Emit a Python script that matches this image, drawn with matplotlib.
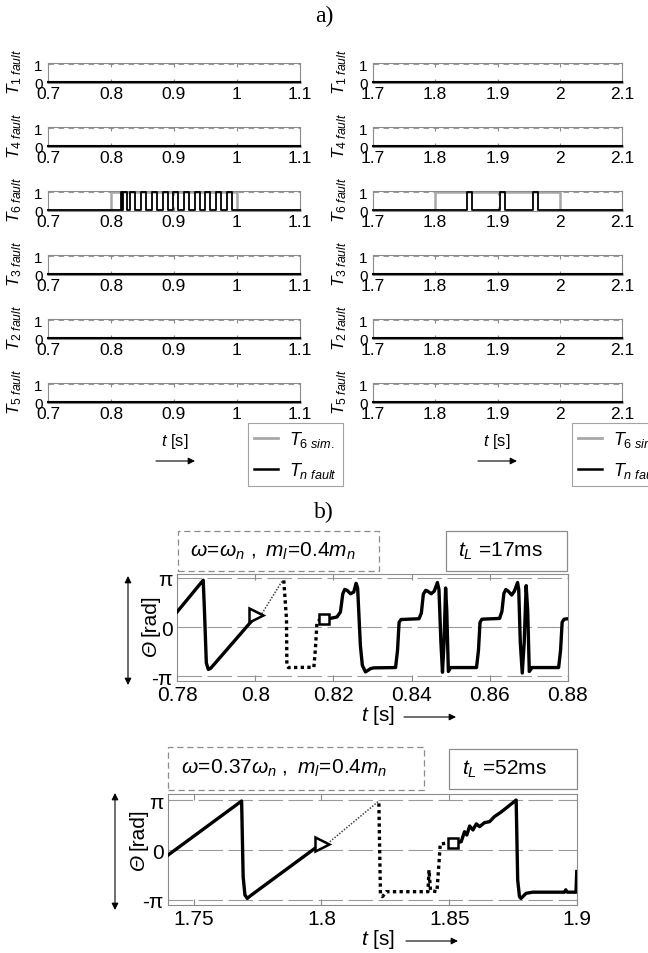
import matplotlib
matplotlib.use('Agg')
import matplotlib.pyplot as plt
import numpy as np
from matplotlib.patches import Rectangle, FancyArrowPatch
from matplotlib.lines import Line2D

plt.rcParams['font.family'] = ['Liberation Sans', 'DejaVu Sans']
plt.rcParams['mathtext.fontset'] = 'custom'
plt.rcParams['mathtext.rm'] = 'Liberation Sans'
plt.rcParams['mathtext.it'] = 'Liberation Sans:italic'
plt.rcParams['mathtext.bf'] = 'Liberation Sans:bold'

# ---------------- data: part a) ----------------
a_left_ticks = [0.7, 0.8, 0.9, 1.0, 1.1]
a_right_ticks = [1.7, 1.8, 1.9, 2.0, 2.1]
a_rows = ['1', '4', '6', '3', '2', '5']
t6_sim_left = (0.80, 1.00)
t6_sim_right = (1.80, 2.00)
t6_fault_left = [(0.8166, 0.8175), (0.8185, 0.8250),
                 (0.8309, 0.8388), (0.8479, 0.8558), (0.8648, 0.8727),
                 (0.8818, 0.8897), (0.8987, 0.9066), (0.9157, 0.9236),
                 (0.9326, 0.9405), (0.9496, 0.9575), (0.9665, 0.9744),
                 (0.9835, 0.9914)]
t6_fault_right = [(1.8504, 1.8584), (1.9040, 1.9120), (1.9577, 1.9657)]

# ---------------- data: part b) top ----------------
b1_xticks = [0.78, 0.80, 0.82, 0.84, 0.86, 0.88]
b1_solid1_t = [0.7800, 0.7867, 0.7870, 0.7875, 0.7880, 0.7886, 0.7995]
b1_solid1_y = [0.96, 3.00, 1.20, -2.30, -2.72, -2.65, 0.50]
b1_thin_t = [0.8017, 0.8070]
b1_thin_y = [0.85, 2.99]
b1_dot_t = [0.8073, 0.8080, 0.8081, 0.8085, 0.8150, 0.8154, 0.8158, 0.8167]
b1_dot_y = [2.99, 0.53, -2.46, -2.60, -2.58, -1.39, 0.32, 0.49]
b1_tri = (0.8003, 0.74)
b1_sq = (0.8175, 0.53)
b1_solid2_t = [0.8188, 0.8209, 0.8218, 0.8224, 0.8229, 0.8235, 0.8244, 0.8252,
               0.8258, 0.8262, 0.8269, 0.8274, 0.8282, 0.8295, 0.8303,
               0.8359, 0.8364, 0.8368, 0.8373, 0.8419, 0.8425, 0.8430, 0.8436,
               0.8441, 0.8450, 0.8458, 0.8466, 0.8470, 0.8475, 0.8479, 0.8483,
               0.8487, 0.8490, 0.8494, 0.8500,
               0.8566, 0.8571, 0.8575, 0.8580, 0.8625, 0.8631, 0.8636, 0.8641,
               0.8647, 0.8656, 0.8663, 0.8671, 0.8674, 0.8678, 0.8683, 0.8688,
               0.8693, 0.8697, 0.8701, 0.8708,
               0.8776, 0.8781, 0.8785, 0.8790, 0.8800]
b1_solid2_y = [0.53, 0.64, 0.96, 2.13, 2.41, 2.35, 2.13, 2.24,
               2.80, 2.50, -1.18, -2.46, -2.88, -2.67, -2.62,
               -2.60, -1.50, 0.30, 0.48, 0.53, 0.90, 2.10, 2.35,
               2.30, 2.13, 2.30, 2.85, 2.40, -1.00, -2.90, -1.00,
               2.50, 1.00, -2.85, -2.60,
               -2.60, -1.50, 0.30, 0.50, 0.55, 1.00, 2.15, 2.40,
               2.30, 2.05, 2.30, 2.85, 2.40, -1.00, -2.95, -1.00,
               2.65, 1.00, -2.85, -2.60,
               -2.60, -1.50, 0.30, 0.50, 0.53]

# ---------------- data: part b) bottom ----------------
b2_xticks = [1.75, 1.80, 1.85, 1.90]
b2_solid1_t = [1.7401, 1.7688, 1.7694, 1.7701, 1.7710, 1.7723, 1.7987]
b2_solid1_y = [-0.31, 3.08, -1.68, -2.83, -3.04, -2.87, 0.25]
b2_thin_t = [1.8033, 1.8222]
b2_thin_y = [0.52, 3.04]
b2_dot_t = [1.8225, 1.8228, 1.8231, 1.8239, 1.8254, 1.8417, 1.8421, 1.8427,
            1.8452, 1.8460, 1.8465, 1.8495]
b2_dot_y = [2.93, 0.00, -2.73, -2.93, -2.62, -2.62, -1.26, -2.55,
            -2.62, -0.84, 0.38, 0.44]
b2_tri = (1.8004, 0.38)
b2_sq = (1.8514, 0.46)
b2_solid2_t = [1.8530, 1.8547, 1.8560, 1.8569, 1.8580, 1.8593, 1.8606, 1.8619,
               1.8638, 1.8658, 1.8677, 1.8700, 1.8720, 1.8762, 1.8768, 1.8775,
               1.8781, 1.8801, 1.8827, 1.8951, 1.8956, 1.8962, 1.8996, 1.8999]
b2_solid2_y = [0.46, 0.52, 1.15, 0.94, 1.51, 1.26, 1.64, 1.47,
               1.72, 1.78, 2.10, 2.35, 2.60, 3.14, -1.89, -2.94,
               -3.04, -2.72, -2.65, -2.65, -2.50, -2.65, -2.65, -1.35]

# ---------------- layout helpers ----------------
W, H = 648, 954
fig = plt.figure(figsize=(W / 100, H / 100), dpi=100)


def rect(x0, y0, x1, y1):
    return [x0 / W, 1 - y1 / H, (x1 - x0) / W, (y1 - y0) / H]


def fxy(x, y):
    return (x / W, 1 - y / H)


GRID = '#9a9a9a'
SPINE = '#8c8c8c'
SIMGRAY = '#a8a8a8'


def steps(x0, x1, pulses):
    t = [x0]
    v = [0]
    for a, b in pulses:
        t += [a, a, b, b]
        v += [0, 1, 1, 0]
    t.append(x1)
    v.append(0)
    return t, v


def style_axes(ax):
    for s in ax.spines.values():
        s.set_color(SPINE)
        s.set_linewidth(0.8)


def arrow(p0, p1, style):
    fig.add_artist(FancyArrowPatch(
        fxy(*p0), fxy(*p1), transform=fig.transFigure,
        arrowstyle=style, mutation_scale=10, lw=0.8, color='black',
        shrinkA=0, shrinkB=0))


# ---------------- part a) ----------------
fig.text(*fxy(324, 16), 'a)', family='Liberation Serif', fontsize=17,
         ha='center', va='center')

cols = [(48, 300, a_left_ticks, t6_sim_left, t6_fault_left,
         r'$T_{\mathit{6\ sim.}}$', 248, 175),
        (373, 622, a_right_ticks, t6_sim_right, t6_fault_right,
         r'$T_{\mathit{6\ sim}}$', 572, 497)]
for xl, xr, ticks, sim, fault, simlab, legx, tx in cols:
    x0, x1 = ticks[0], ticks[-1]
    for i, name in enumerate(a_rows):
        top = 64 + 64 * i
        ax = fig.add_axes(rect(xl, top, xr, top + 20))
        ax.set_xlim(x0, x1)
        ax.set_ylim(-0.03, 1.06)
        ax.axhline(1, color=GRID, ls=(0, (5, 4)), lw=0.8, zorder=0)
        if name == '6':
            ts, vs = steps(x0, x1, [sim])
            ax.plot(ts, vs, color=SIMGRAY, lw=1.8, zorder=2, clip_on=False)
            tf, vf = steps(x0, x1, fault)
            ax.plot(tf, vf, color='black', lw=1.3, zorder=3, clip_on=False)
        else:
            ax.plot([x0, x1], [0, 0], color=SIMGRAY, lw=1.8, zorder=2, clip_on=False)
            ax.plot([x0, x1], [0, 0], color='black', lw=1.5, zorder=3, clip_on=False)
        ax.set_xticks(ticks)
        ax.set_xticklabels([('%g' % v) for v in ticks])
        ax.set_yticks([0, 1])
        ax.set_yticklabels(['0', '1'])
        ax.tick_params(axis='x', direction='in', length=3, color=SPINE, top=True,
                       labelsize=12.5, pad=2)
        ax.tick_params(axis='y', length=0, labelsize=11, pad=4)
        style_axes(ax)
        ax.set_ylabel(r'$T_{\mathit{%s\ fault}}$' % name, fontsize=12.5, rotation=90)
        ax.yaxis.set_label_coords(-0.095, 0.62)
    # time label and arrow
    fig.text(*fxy(tx, 442), r'$t$ [s]', fontsize=12, ha='center', va='center')
    arrow((tx - 19, 462), (tx + 20, 462), '-|>')
    handles = [Line2D([], [], color=SIMGRAY, lw=2.0), Line2D([], [], color='black', lw=1.8)]
    leg = fig.legend(handles, [simlab, r'$T_{\mathit{n\ fault}}$'],
                     loc='upper left', bbox_to_anchor=fxy(legx, 424),
                     fontsize=13, frameon=True, fancybox=False,
                     edgecolor=SPINE, handlelength=1.3, handletextpad=0.6,
                     borderpad=0.35, labelspacing=0.6, borderaxespad=0)
    leg.get_frame().set_linewidth(0.8)

# ---------------- part b) ----------------
fig.text(*fxy(324, 512), 'b)', family='Liberation Serif', fontsize=17,
         ha='center', va='center')


def theta_axes(box, xlim, ylim, xticks):
    ax = fig.add_axes(rect(*box))
    ax.set_xlim(*xlim)
    ax.set_ylim(*ylim)
    for yv in (-np.pi, 0, np.pi):
        ax.axhline(yv, color=GRID, ls=(0, (22, 5)), lw=0.8, zorder=0)
    ax.set_xticks(xticks)
    ax.set_xticklabels([('%g' % v) for v in xticks])
    ax.set_yticks([-np.pi, 0, np.pi])
    ax.set_yticklabels(['-π', '0', 'π'])
    ax.tick_params(axis='x', direction='in', length=4, color=SPINE, top=True,
                   labelsize=15, pad=3)
    ax.tick_params(axis='y', length=0, labelsize=15, pad=3)
    style_axes(ax)
    return ax


def draw_theta(ax, s1t, s1y, tht, thy, dt, dy, tri, sq, s2t, s2y):
    ax.plot(s1t, s1y, color='black', lw=2.4, zorder=3, solid_joinstyle='round')
    ax.plot(tht, thy, color='#444444', lw=1.1, ls=(0, (1, 1)), zorder=3)
    ax.plot(dt, dy, color='black', lw=2.4, ls=(0, (1, 1)), zorder=3)
    ax.plot(s2t, s2y, color='black', lw=2.4, zorder=3, solid_joinstyle='round')
    ax.plot([tri[0]], [tri[1]], marker='>', ms=10, mfc='white', mec='black',
            mew=1.8, zorder=4)
    ax.plot([sq[0]], [sq[1]], marker='s', ms=7, mfc='white', mec='black',
            mew=1.8, zorder=4)


# top
ax1 = theta_axes((177, 575, 568, 682), (0.78, 0.88), (-3.462, 3.398), b1_xticks)
draw_theta(ax1, b1_solid1_t, b1_solid1_y, b1_thin_t, b1_thin_y, b1_dot_t, b1_dot_y,
           b1_tri, b1_sq, b1_solid2_t, b1_solid2_y)
# bottom
ax2 = theta_axes((168, 795, 577, 906), (1.74, 1.90), (-3.456, 3.52), b2_xticks)
draw_theta(ax2, b2_solid1_t, b2_solid1_y, b2_thin_t, b2_thin_y, b2_dot_t, b2_dot_y,
           b2_tri, b2_sq, b2_solid2_t, b2_solid2_y)


def box(x0, y0, x1, y1, dashed):
    fig.add_artist(Rectangle(fxy(x0, y1), (x1 - x0) / W, (y1 - y0) / H,
                             transform=fig.transFigure, fill=False,
                             ec=SPINE, lw=0.9,
                             ls=(0, (5, 3)) if dashed else '-'))


# annotation boxes
box(178, 532, 379, 572, True)
fig.text(*fxy(190, 551), r'$\mathit{ω\!=\!ω_n\ ,\ m_l\!=\!0.4m_n}$', fontsize=15,
         ha='left', va='center')
box(446, 532, 567, 572, False)
fig.text(*fxy(458, 551), r'$t_L$ =17ms', fontsize=15, ha='left', va='center')

box(168, 748, 424, 791, True)
fig.text(*fxy(181, 768), r'$\mathit{ω\!=\!0.37ω_n\ ,\ m_l\!=\!0.4m_n}$', fontsize=15,
         ha='left', va='center')
box(449, 750, 577, 790, False)
fig.text(*fxy(462, 769), r'$t_L$ =52ms', fontsize=15, ha='left', va='center')

# axis labels (italic Theta + upright [rad]) and arrows
for (lx, th_y, rad_y) in [(150, 648, 615), (138, 862, 829)]:
    fig.text(*fxy(lx, th_y), 'Θ', rotation=90, fontsize=15, style='italic',
             ha='center', va='center')
    fig.text(*fxy(lx, rad_y), '[rad]', rotation=90, fontsize=15,
             ha='center', va='center')
arrow((128, 577), (128, 686), '<|-|>')
fig.text(*fxy(378, 716), r'$t$ [s]', fontsize=15, ha='center', va='center')
arrow((404, 718), (456, 718), '-|>')

arrow((115, 794), (115, 911), '<|-|>')
fig.text(*fxy(378, 940), r'$t$ [s]', fontsize=15, ha='center', va='center')
arrow((406, 942), (458, 942), '-|>')

fig.savefig('out.png', dpi=100)
